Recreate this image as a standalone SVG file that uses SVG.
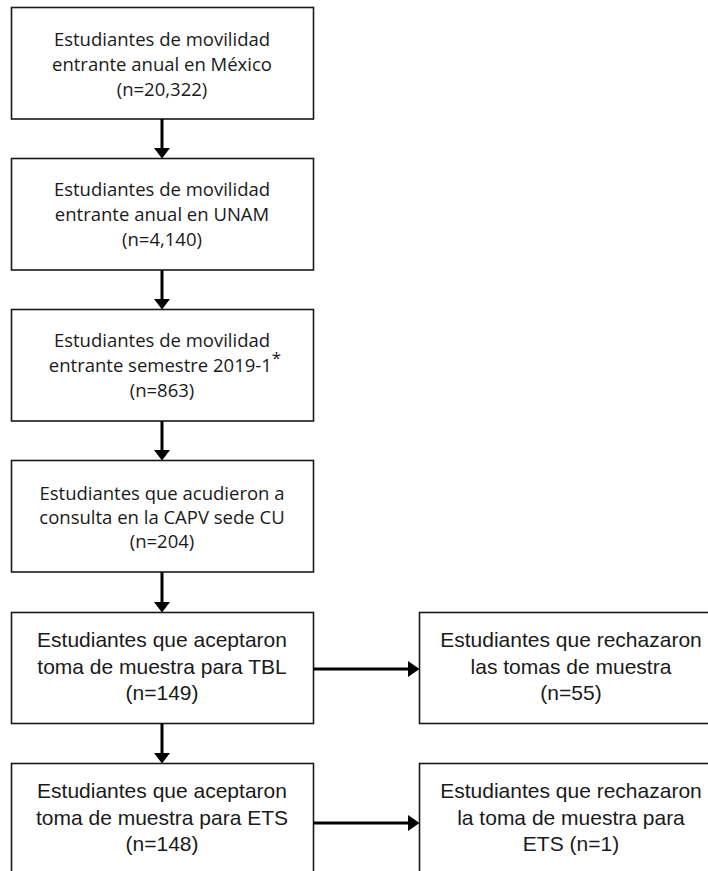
<svg xmlns="http://www.w3.org/2000/svg" width="708" height="871" viewBox="0 0 708 871">
<style>
.box{fill:#fff;stroke:#1a1a1a;stroke-width:1.6}
.c{font-family:"Open Sans","Liberation Sans",sans-serif;font-size:18.5px;fill:#1a1a1a;text-anchor:middle}
.a{font-family:"Liberation Sans",Arial,sans-serif;font-size:21px;fill:#1a1a1a;text-anchor:middle}
.conn line{stroke:#000;stroke-width:3}
.conn polygon{fill:#000}
</style>
<rect width="708" height="871" fill="#fff"/>
<g id="n1">
<rect class="box" x="11.5" y="7.5" width="302" height="111.5"/>
<text class="c" x="162" y="46">Estudiantes de movilidad</text>
<text class="c" x="162" y="71">entrante anual en México</text>
<text class="c" x="162" y="96">(n=20,322)</text>
</g>
<g id="n2">
<rect class="box" x="11.5" y="158.5" width="302" height="111.5"/>
<text class="c" x="162" y="196">Estudiantes de movilidad</text>
<text class="c" x="162" y="221">entrante anual en UNAM</text>
<text class="c" x="162" y="246">(n=4,140)</text>
</g>
<g id="n3">
<rect class="box" x="11.5" y="309.5" width="302" height="111.5"/>
<text class="c" x="162" y="347">Estudiantes de movilidad</text>
<text class="c" x="165" y="372">entrante semestre 2019-1<tspan dy="-8" font-size="17">*</tspan></text>
<text class="c" x="162" y="397">(n=863)</text>
</g>
<g id="n4">
<rect class="box" x="11.5" y="460.5" width="302" height="111.5"/>
<text class="c" x="162" y="500">Estudiantes que acudieron a</text>
<text class="c" x="162" y="524">consulta en la CAPV sede CU</text>
<text class="c" x="162" y="548">(n=204)</text>
</g>
<g id="n5">
<rect class="box" x="11.5" y="612.5" width="302" height="111"/>
<text class="a" x="162" y="647">Estudiantes que aceptaron</text>
<text class="a" x="162" y="674">toma de muestra para TBL</text>
<text class="a" x="162" y="700">(n=149)</text>
</g>
<g id="n6">
<rect class="box" x="419.5" y="612.5" width="302" height="111"/>
<text class="a" x="571" y="647">Estudiantes que rechazaron</text>
<text class="a" x="571" y="674">las tomas de muestra</text>
<text class="a" x="571" y="700">(n=55)</text>
</g>
<g id="n7">
<rect class="box" x="11.5" y="763.5" width="302" height="111"/>
<text class="a" x="162" y="798">Estudiantes que aceptaron</text>
<text class="a" x="162" y="825">toma de muestra para ETS</text>
<text class="a" x="162" y="851">(n=148)</text>
</g>
<g id="n8">
<rect class="box" x="419.5" y="763.5" width="302" height="111"/>
<text class="a" x="571" y="798">Estudiantes que rechazaron</text>
<text class="a" x="571" y="825">la toma de muestra para</text>
<text class="a" x="571" y="851">ETS (n=1)</text>
</g>
<g id="connectors" class="conn">
<line x1="162" y1="119" x2="162" y2="149"/><polygon points="154,148 170,148 162,158.5"/>
<line x1="162" y1="270" x2="162" y2="300"/><polygon points="154,299 170,299 162,309.5"/>
<line x1="162" y1="421" x2="162" y2="451"/><polygon points="154,450 170,450 162,460.5"/>
<line x1="162" y1="572" x2="162" y2="603"/><polygon points="154,602 170,602 162,612.5"/>
<line x1="162" y1="723.5" x2="162" y2="754"/><polygon points="154,753 170,753 162,763.5"/>
<line x1="313.5" y1="669" x2="410" y2="669"/><polygon points="408,661 408,677 419.5,669"/>
<line x1="313.5" y1="823" x2="410" y2="823"/><polygon points="408,815 408,831 419.5,823"/>
</g>
</svg>
